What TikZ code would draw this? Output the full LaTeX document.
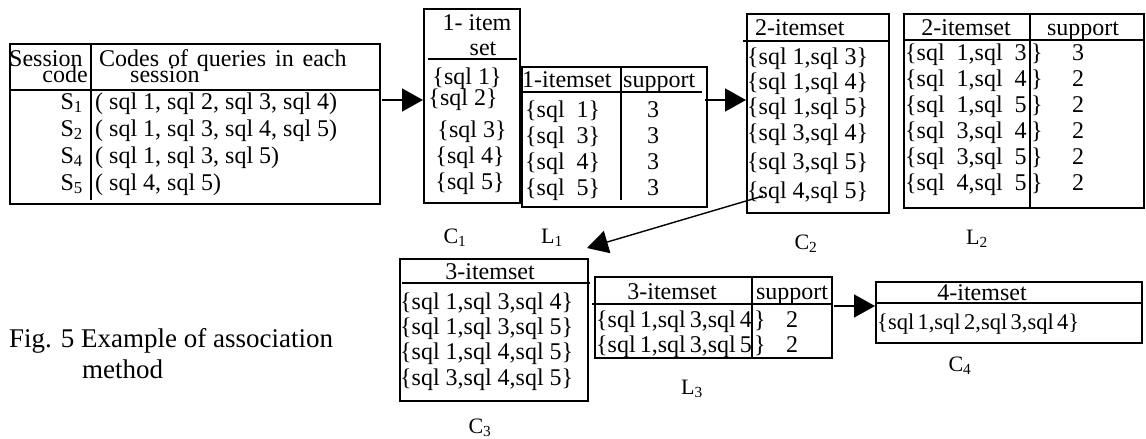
\documentclass[tikz,border=0pt]{standalone}
\usepackage{fontspec}
\setmainfont{Liberation Serif}
\usepackage{tikz}
\usetikzlibrary{arrows.meta}

% wider gap between "sql" and its number
\newcommand{\gap}{\hspace{0.5em}}
\newcommand{\tight}{\spaceskip=0.17em\relax}

\begin{document}
\begin{tikzpicture}[x=1pt, y=-1pt,
    every node/.style={font=\fontsize{24}{28}\selectfont, inner sep=0pt,
      text height=22pt, text depth=4pt},
    tbl/.style={draw, line width=1.6pt, anchor=north west, inner sep=0pt,
      text height=, text depth=},
    rule/.style={line width=1.4pt},
    arr/.style={line width=1.4pt, -{Triangle[length=21pt, width=23pt]}},
    lbl/.style={font=\fontsize{22}{26}\selectfont, text height=17pt, text depth=4pt}]
    \useasboundingbox (0,0) rectangle (1146,439);

    % sessions and their queries
    \node[tbl, minimum width=370pt, minimum height=160pt] (sess) at (9,43) {};
    \draw[rule] (sess.west |- 0,90) -- (sess.east |- 0,90);
    \draw[rule] (91,43) -- (91,200);
    \node[anchor=west] (hs1) at (9,57) {Session};
    \node[anchor=east] (hs2) at (88,73) {code};
    \node[anchor=west] (hq1) at (99,57) {\spaceskip=0.37em\relax Codes of queries in each};
    \node[anchor=west] (hq2) at (130,73) {session};
    \node[anchor=east] (s1) at (83,100) {S\textsubscript{1}};
    \node[anchor=east] (s2) at (83,127) {S\textsubscript{2}};
    \node[anchor=east] (s4) at (83,154) {S\textsubscript{4}};
    \node[anchor=east] (s5) at (83,181) {S\textsubscript{5}};
    \node[anchor=west] (q1) at (95,100) {( sql 1, sql 2, sql 3, sql 4)};
    \node[anchor=west] (q2) at (95,127) {( sql 1, sql 3, sql 4, sql 5)};
    \node[anchor=west] (q4) at (95,154) {( sql 1, sql 3, sql 5)};
    \node[anchor=west] (q5) at (95,181) {( sql 4, sql 5)};

    % C1
    \node[tbl, minimum width=96pt, minimum height=194pt] (cone) at (423,8) {};
    \draw[rule] (428,59) -- (517,59);
    \node (cone1) at (477,21) {1- item};
    \node (cone2) at (483,46) {set};
    \node (ci1) at (467,75) {\{sql 1\}};
    \node (ci2) at (463,96) {\{sql 2\}};
    \node (ci3) at (472,128) {\{sql 3\}};
    \node (ci4) at (470,154) {\{sql 4\}};
    \node (ci5) at (470,180) {\{sql 5\}};

    % L1
    \node[tbl, minimum width=185pt, minimum height=140pt] (lone) at (521,66) {};
    \draw[rule] (521,92) -- (702,92);
    \draw[rule] (621,66) -- (621,200);
    \node[anchor=west] (lone1) at (522,78) {1-itemset};
    \node[anchor=west] (lone2) at (623,78) {support};
    \foreach \s [count=\i] in {1,3,4,5} {
      \node[anchor=west] (li\i) at (525,82+26*\i) {\{sql\gap\s\}};
      \node (ls\i) at (653,82+26*\i) {3};
    }

    % C2
    \node[tbl, minimum width=142pt, minimum height=199pt] (ctwo) at (746,13) {};
    \draw[rule] (743,41) -- (888,41);
    \node[anchor=west] (ctwo1) at (755,26) {2-itemset};
    \foreach \p/\y [count=\i] in {{1,sql 3}/55, {1,sql 4}/80, {1,sql 5}/105,
                                  {3,sql 4}/131, {3,sql 5}/160, {4,sql 5}/189}
      \node[anchor=west] (cii\i) at (747,\y) {\{sql \p\}};

    % L2
    \node[tbl, minimum width=240pt, minimum height=194pt] (ltwo) at (903,13) {};
    \draw[rule] (903,40) -- (1143,40);
    \draw[rule] (1030,13) -- (1030,207);
    \node (ltwo1) at (966,26) {2-itemset};
    \node (ltwo2) at (1083,26) {support};
    \foreach \a/\b/\n [count=\i] in {1/3/3, 1/4/2, 1/5/2, 3/4/2, 3/5/2, 4/5/2} {
      \node[anchor=west] (lii\i) at (905,25+26*\i) {\{sql\gap\a,sql\gap\b};
      \node[anchor=west] (lib\i) at (1031,25+26*\i) {\}};
      \node (lis\i) at (1078,25+26*\i) {\n};
    }

    % C3
    \node[tbl, minimum width=188pt, minimum height=142pt] (cthree) at (399,258) {};
    \draw[rule] (402,283) -- (590,283);
    \node (cthree1) at (490,270) {3-itemset};
    \foreach \p/\y [count=\i] in {{1,sql 3,sql 4}/300, {1,sql 3,sql 5}/325,
                                  {1,sql 4,sql 5}/350, {3,sql 4,sql 5}/376}
      \node[anchor=west] (ciii\i) at (400,\y) {\{sql \p\}};

    % L3
    \node[tbl, minimum width=237pt, minimum height=81pt] (lthree) at (594,276) {};
    \draw[rule] (592,304) -- (831,304);
    \draw[rule] (752,276) -- (752,359);
    \node (lthree1) at (672,290) {3-itemset};
    \node (lthree2) at (792,290) {support};
    \foreach \c/\y [count=\i] in {4/318, 5/343} {
      \node[anchor=west] (liii\i) at (596,\y) {\tight\{sql 1,sql 3,sql \c};
      \node[anchor=west] (liiib\i) at (754,\y) {\}};
      \node (liiis\i) at (792,\y) {2};
    }

    % C4
    \node[tbl, minimum width=266pt, minimum height=61pt] (cfour) at (875,281) {};
    \draw[rule] (875,303) -- (1141,303);
    \node (cfour1) at (982,291) {4-itemset};
    \node[anchor=west, font=\fontsize{22.5}{26}\selectfont] (civ1) at (877,320)
      {\spaceskip=0.15em\relax\{sql 1,sql 2,sql 3,sql 4\}};

    % names under the tables
    \node[lbl] (nc1) at (455,237) {C\textsubscript{1}};
    \node[lbl] (nl1) at (552,237) {L\textsubscript{1}};
    \node[lbl] (nc2) at (806,243) {C\textsubscript{2}};
    \node[lbl] (nl2) at (977,238) {L\textsubscript{2}};
    \node[lbl] (nc3) at (480,427) {C\textsubscript{3}};
    \node[lbl] (nl3) at (692,388) {L\textsubscript{3}};
    \node[lbl] (nc4) at (960,365) {C\textsubscript{4}};

    % arrows between the steps
    \coordinate (m1) at (382,100);
    \coordinate (m2) at (705,100);
    \coordinate (m3) at (834,306);
    \coordinate (d0) at (763,196);
    \coordinate (d1) at (587,248);
    \draw[arr] (m1) -- (m1 -| cone.west);
    \draw[arr] (m2) -- (m2 -| ctwo.west);
    \draw[arr] (m3) -- (m3 -| cfour.west);
    \draw[arr] (d0) -- (d1);

    \node[anchor=west, font=\fontsize{27}{32}\selectfont] (cap1) at (9,338)
      {Fig. 5 Example of association};
    \node[anchor=west, font=\fontsize{27}{32}\selectfont] (cap2) at (82,369) {method};
\end{tikzpicture}
\end{document}
